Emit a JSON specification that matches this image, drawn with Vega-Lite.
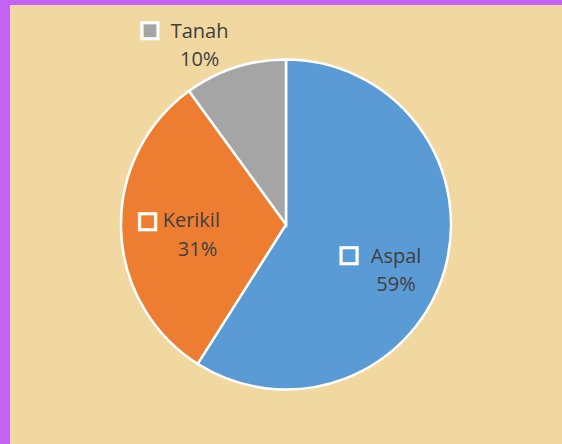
{
  "$schema": "https://vega.github.io/schema/vega-lite/v6.json",
  "width": 552,
  "height": 439,
  "autosize": {"type": "none"},
  "padding": {"left": 10, "top": 5, "right": 0, "bottom": 0},
  "background": "#C462F5",
  "view": {"fill": "#F0D8A0", "stroke": null},
  "data": {"values": [
    {"cat": "Aspal", "v": 59, "pct": "59%"},
    {"cat": "Kerikil", "v": 31, "pct": "31%"},
    {"cat": "Tanah", "v": 10, "pct": "10%"}
  ]},
  "encoding": {
    "theta": {"field": "v", "type": "quantitative", "stack": true},
    "detail": {"field": "cat", "type": "nominal"},
    "order": {"field": "cat", "type": "ordinal", "sort": "ascending"}
  },
  "layer": [
    {
      "mark": {"type": "arc", "outerRadius": 165, "stroke": "white", "strokeWidth": 2.5},
      "encoding": {
        "color": {"field": "cat", "type": "nominal", "legend": null,
          "scale": {"domain": ["Aspal", "Kerikil", "Tanah"], "range": ["#5B9BD5", "#ED7D31", "#A5A5A5"]}}
      }
    },
    {
      "mark": {"type": "text", "radius": 105, "dx": -37.8, "dy": 1.7, "font": "DejaVu Sans", "fontSize": 21, "fill": "#5B9BD5", "stroke": "white", "strokeWidth": 3, "align": "center", "baseline": "middle"},
      "encoding": {"text": {"condition": {"test": "datum.cat === 'Aspal'", "value": "■"}, "value": ""}}
    },
    {
      "mark": {"type": "text", "radius": 105, "dx": -33.4, "dy": -6.8, "font": "DejaVu Sans", "fontSize": 21, "fill": "#ED7D31", "stroke": "white", "strokeWidth": 3, "align": "center", "baseline": "middle"},
      "encoding": {"text": {"condition": {"test": "datum.cat === 'Kerikil'", "value": "■"}, "value": ""}}
    },
    {
      "mark": {"type": "text", "radius": 200, "dx": -74.2, "dy": -3.8, "font": "DejaVu Sans", "fontSize": 21, "fill": "#A5A5A5", "stroke": "white", "strokeWidth": 3, "align": "center", "baseline": "middle"},
      "encoding": {"text": {"condition": {"test": "datum.cat === 'Tanah'", "value": "■"}, "value": ""}}
    },
    {
      "mark": {"type": "text", "radius": 105, "dx": -16, "dy": 3.2, "font": "Open Sans", "fontSize": 20, "fill": "#404040", "align": "left", "baseline": "middle"},
      "encoding": {"text": {"condition": {"test": "datum.cat === 'Aspal'", "field": "cat"}, "value": ""}}
    },
    {
      "mark": {"type": "text", "radius": 105, "dx": -18.4, "dy": -6.3, "font": "Open Sans", "fontSize": 20, "fill": "#404040", "align": "left", "baseline": "middle"},
      "encoding": {"text": {"condition": {"test": "datum.cat === 'Kerikil'", "field": "cat"}, "value": ""}}
    },
    {
      "mark": {"type": "text", "radius": 200, "dx": -53.5, "dy": -2.6, "font": "Open Sans", "fontSize": 20, "fill": "#404040", "align": "left", "baseline": "middle"},
      "encoding": {"text": {"condition": {"test": "datum.cat === 'Tanah'", "field": "cat"}, "value": ""}}
    },
    {
      "mark": {"type": "text", "radius": 105, "dx": 9.2, "dy": 31.7, "font": "Open Sans", "fontSize": 20, "fill": "#404040", "align": "center", "baseline": "middle"},
      "encoding": {"text": {"condition": {"test": "datum.cat === 'Aspal'", "field": "pct"}, "value": ""}}
    },
    {
      "mark": {"type": "text", "radius": 105, "dx": 16.5, "dy": 22.7, "font": "Open Sans", "fontSize": 20, "fill": "#404040", "align": "center", "baseline": "middle"},
      "encoding": {"text": {"condition": {"test": "datum.cat === 'Kerikil'", "field": "pct"}, "value": ""}}
    },
    {
      "mark": {"type": "text", "radius": 200, "dx": -24.5, "dy": 26.2, "font": "Open Sans", "fontSize": 20, "fill": "#404040", "align": "center", "baseline": "middle"},
      "encoding": {"text": {"condition": {"test": "datum.cat === 'Tanah'", "field": "pct"}, "value": ""}}
    }
  ]
}
